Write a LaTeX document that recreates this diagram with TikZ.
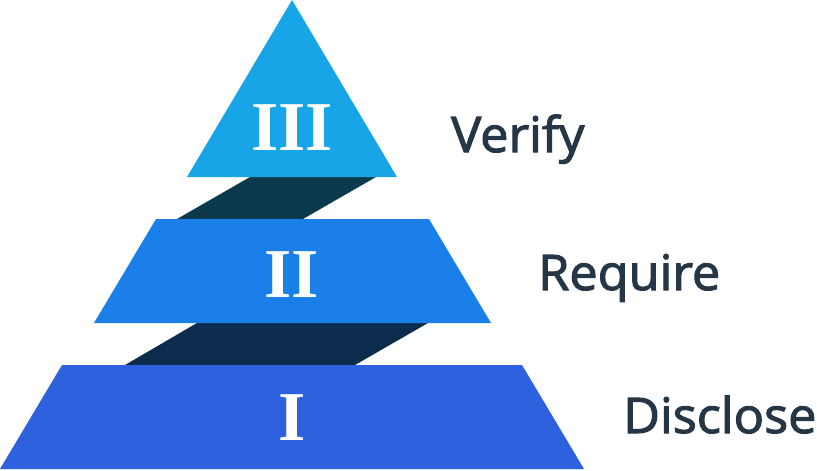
\documentclass[tikz,border=0pt]{standalone}
\usepackage{fontspec}
\usepackage{tikz}
\usetikzlibrary{calc,positioning}
\newfontfamily\numfont{Liberation Serif}
\newfontfamily\labfont{Open Sans}[FakeBold=2.2,FakeStretch=1.03]
\definecolor{tierthree}{HTML}{17A5E8}
\definecolor{tiertwo}{HTML}{1B7FE9}
\definecolor{tierone}{HTML}{2D61DE}
\definecolor{bandup}{HTML}{0B3A4C}
\definecolor{banddown}{HTML}{0B2C4D}
\definecolor{labtext}{HTML}{253746}
\tikzset{
  numeral/.style={text=white, anchor=base, inner sep=0pt,
    font=\numfont\bfseries\fontsize{70}{82}\selectfont},
  tierlabel/.style={text=labtext, anchor=base west, inner sep=0pt,
    font=\labfont\fontsize{49}{58}\selectfont}
}

\begin{document}
\begin{tikzpicture}[x=1pt,y=-1pt]
        \useasboundingbox (0,0) rectangle (817,471);
        %Tier III
        \coordinate (a1) at (292,0);
        \coordinate (a2) at (187,177);
        \coordinate (a3) at (397,177);
        %Tier II
        \coordinate (b1) at (156,219);
        \coordinate (b2) at (429,219);
        \coordinate (b3) at (491,323);
        \coordinate (b4) at (94,323);
        %Tier I
        \coordinate (c1) at (62,365);
        \coordinate (c2) at (522,365);
        \coordinate (c3) at (584,469);
        \coordinate (c4) at (0,469);
        %Shade
        \fill[bandup] (250,177) -- (376,177) -- (303,219) -- (177,219) -- cycle;
        \fill[banddown] (197,323) -- (428,323) -- (355,365) -- (125,365) -- cycle;
        %Draw tiers
        \fill[tierthree] (a1) -- (a3) -- (a2) -- cycle;
        \fill[tiertwo] (b1) -- (b2) -- (b3) -- (b4) -- cycle;
        \fill[tierone] (c1) -- (c2) -- (c3) -- (c4) -- cycle;
        %Numerals
        \node[numeral] (n3) at (292,150) {III};
        \node[numeral] (n2) at (292,297) {II};
        \node[numeral] (n1) at (292,440) {I};
        %Labels
        \node[tierlabel] (verify) at (451,152) {Verify};
        \node[tierlabel] (require) at (538,290) {Require};
        \node[tierlabel] (disclose) at (623,433) {Disclose};
      \end{tikzpicture}
\end{document}
